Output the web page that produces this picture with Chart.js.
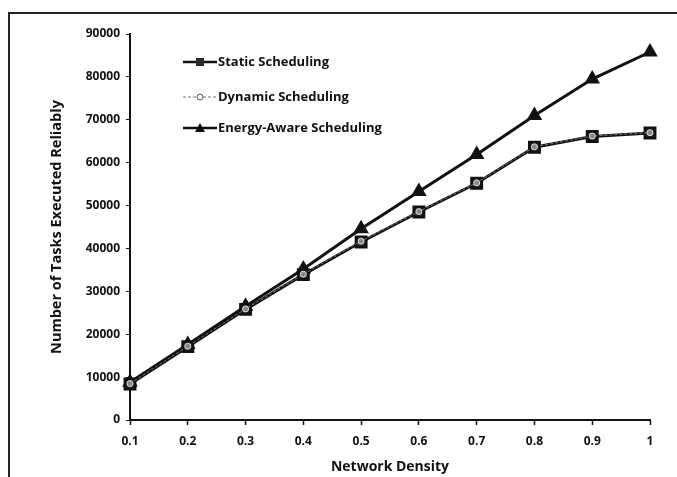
<!DOCTYPE html>
<html>
<head>
<meta charset="utf-8">
<script src="https://cdn.jsdelivr.net/npm/chart.js@4"></script>
<style>
  html, body { margin: 0; padding: 0; background: #fff; }
  #wrap { position: relative; width: 677px; height: 477px; overflow: hidden; }
  #frame { position: absolute; left: 8px; top: 12px; width: 700px; height: 463px;
           border-left: 2px solid #222; border-top: 2px solid #222; border-bottom: 0; }
  #tag { position: absolute; left: 262px; top: -20px; font: 16px "Open Sans", sans-serif; color: #222; }
  canvas { position: absolute; left: 0; top: 0; }
</style>
</head>
<body>
<div id="wrap">
  <div id="frame"></div>
  <div id="tag">(a)</div>
  <canvas id="chart" width="677" height="477"></canvas>
</div>
<script>
const densities = ['0.1', '0.2', '0.3', '0.4', '0.5', '0.6', '0.7', '0.8', '0.9', '1'];
const staticTasks = [8400, 17100, 25800, 33900, 41500, 48500, 55200, 63600, 66100, 66900];
const dynamicTasks = [8500, 17200, 25900, 34000, 41700, 48600, 55300, 63700, 66200, 67000];
const energyTasks = [8800, 17600, 26500, 35200, 44600, 53300, 61900, 71000, 79500, 85800];
const seriesNames = ['Static Scheduling', 'Dynamic Scheduling', 'Energy-Aware Scheduling'];

// legend drawn inside the plot, stacked vertically like the original
const insideLegend = {
  id: 'insideLegend',
  afterDraw(chart) {
    const ctx = chart.ctx;
    const rows = [62, 97, 128];
    chart.data.datasets.forEach((ds, i) => {
      const y = rows[i];
      ctx.save();
      ctx.strokeStyle = ds.borderColor;
      ctx.lineWidth = i === 1 ? 1 : 2.5;
      ctx.setLineDash(ds.borderDash || []);
      ctx.beginPath();
      ctx.moveTo(183, y);
      ctx.lineTo(217, y);
      ctx.stroke();
      ctx.setLineDash([]);
      ctx.fillStyle = ds.pointBackgroundColor;
      ctx.strokeStyle = '#555';
      ctx.lineWidth = 1;
      if (i === 0) {
        ctx.fillRect(196, y - 4, 8, 8);
      } else if (i === 1) {
        ctx.fillStyle = '#fff';
        ctx.beginPath(); ctx.arc(200, y, 3, 0, Math.PI * 2); ctx.fill(); ctx.stroke();
      } else {
        ctx.beginPath(); ctx.moveTo(200, y - 5); ctx.lineTo(205, y + 4); ctx.lineTo(195, y + 4);
        ctx.closePath(); ctx.fill();
      }
      ctx.fillStyle = '#111';
      ctx.font = 'bold 13px "Open Sans", sans-serif';
      ctx.textBaseline = 'middle';
      ctx.fillText(seriesNames[i], 218, y);
      ctx.restore();
    });
  }
};

new Chart(document.getElementById('chart'), {
  type: 'line',
  data: {
    labels: densities,
    datasets: [
      {
        label: seriesNames[0], data: staticTasks, order: 1,
        borderColor: '#111', borderWidth: 3,
        pointStyle: 'rect', pointRadius: 7, pointBackgroundColor: '#2a2a2a', pointBorderColor: '#111'
      },
      {
        label: seriesNames[1], data: dynamicTasks, order: 0,
        borderColor: '#777', borderWidth: 1, borderDash: [3, 2],
        pointStyle: 'circle', pointRadius: 3, pointBackgroundColor: '#888', pointBorderColor: '#ddd', pointBorderWidth: 1
      },
      {
        label: seriesNames[2], data: energyTasks, order: 2,
        borderColor: '#111', borderWidth: 3,
        pointStyle: 'triangle', pointRadius: 6, pointBackgroundColor: '#111', pointBorderColor: '#111'
      }
    ]
  },
  options: {
    responsive: false,
    animation: false,
    layout: { padding: { top: 34, right: 27, left: 0, bottom: 0 } },
    plugins: { legend: { display: false }, tooltip: { enabled: false } },
    scales: {
      x: {
        afterFit: s => { s.height = 57; },
        grid: { drawOnChartArea: false, color: '#111', tickLength: 5, tickWidth: 1.5 },
        border: { color: '#111', width: 2 },
        ticks: { color: '#111', font: { family: '"Open Sans", sans-serif', size: 12, weight: 'bold' }, padding: 9, maxRotation: 0 },
        title: { display: true, text: 'Network Density', color: '#111',
                 font: { family: '"Open Sans", sans-serif', size: 14, weight: 'bold' }, padding: { top: 0, bottom: 2 } }
      },
      y: {
        min: 0, max: 90000,
        afterFit: s => { s.width = 130; },
        grid: { drawOnChartArea: false, color: '#111', tickLength: 4, tickWidth: 1 },
        border: { color: '#111', width: 2 },
        ticks: { stepSize: 10000, color: '#111', font: { family: '"Open Sans", sans-serif', size: 12, weight: 'bold' }, padding: 6,
                 callback: v => String(v) },
        title: { display: true, text: 'Number of Tasks Executed Reliably', color: '#111',
                 font: { family: '"Open Sans", sans-serif', size: 14.5, weight: 'bold' }, padding: { top: 48, bottom: 0 } }
      }
    }
  },
  plugins: [insideLegend]
});
</script>
</body>
</html>
